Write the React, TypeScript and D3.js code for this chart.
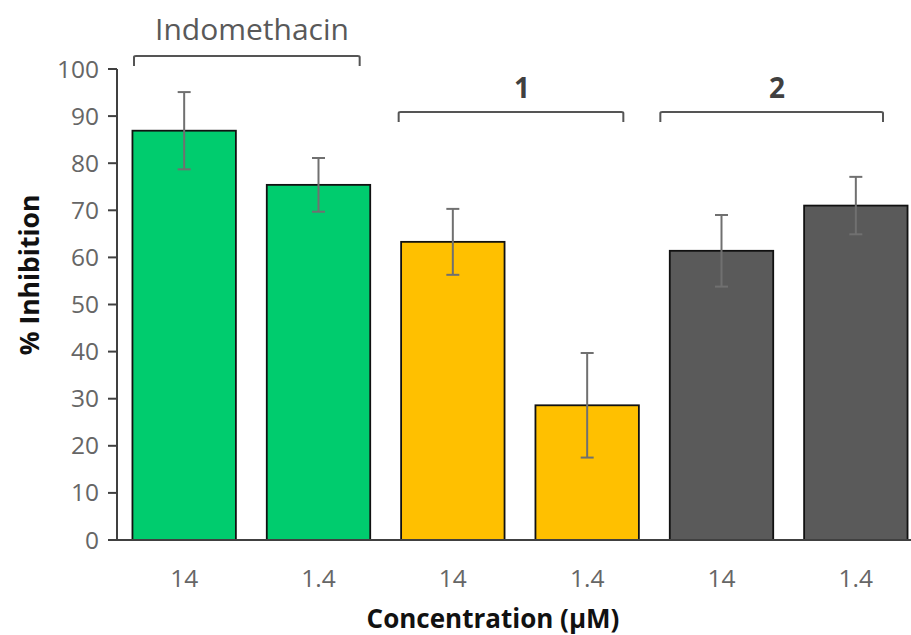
import React from "react";
import * as d3 from "d3";

const categories = ["Indo-14", "Indo-1.4", "C1-14", "C1-1.4", "C2-14", "C2-1.4"];
const tickLabels = ["14", "1.4", "14", "1.4", "14", "1.4"];
const values = [86.9, 75.4, 63.3, 28.6, 61.4, 71.0];
const errors = [8.2, 5.7, 7.0, 11.1, 7.6, 6.1];
const barColors = ["#00CC6E", "#00CC6E", "#FFC000", "#FFC000", "#5A5A5A", "#5A5A5A"];
const groupLabels = ["Indomethacin", "1", "2"];
const groupBold = [false, true, true];
const yTicks = [0, 10, 20, 30, 40, 50, 60, 70, 80, 90, 100];

const W = 911;
const H = 635;
const FONT = "'Open Sans', 'Noto Sans', sans-serif";

export default function App() {
  const x = d3.scaleBand<string>().domain(categories).range([117, 923]).paddingInner(0.23).paddingOuter(0.115);
  const xg = d3.scaleBand<string>().domain(groupLabels).range([117, 923]);
  const y = d3.scaleLinear().domain([0, 100]).range([540, 69]);

  // bracket layout (start offset, end offset within group band, y of bracket, label y)
  const bracketLayout = [
    { s: 17, e: -26, by: 56, ly: 40, lx: 252, size: 30 },
    { s: 13, e: -31, by: 112, ly: 98, lx: 522, size: 28 },
    { s: 6, e: -40, by: 112, ly: 98, lx: 777, size: 28 },
  ];

  return (
    <svg width={W} height={H} style={{ position: "absolute", left: 0, top: 0, background: "#fff" }} fontFamily={FONT}>
      {/* bars */}
      {categories.map((c, i) => (
        <rect
          key={c}
          x={x(c)}
          y={y(values[i])}
          width={x.bandwidth()}
          height={y(0) - y(values[i])}
          fill={barColors[i]}
          stroke="#111"
          strokeWidth={1.8}
        />
      ))}
      {/* error bars */}
      {categories.map((c, i) => {
        const cx = (x(c) as number) + x.bandwidth() / 2;
        const t = y(values[i] + errors[i]);
        const b = y(values[i] - errors[i]);
        return (
          <g key={"e" + c} stroke="#707070" strokeWidth={2}>
            <line x1={cx} x2={cx} y1={t} y2={b} />
            <line x1={cx - 6.5} x2={cx + 6.5} y1={t} y2={t} />
            <line x1={cx - 6.5} x2={cx + 6.5} y1={b} y2={b} />
          </g>
        );
      })}
      {/* y axis */}
      <line x1={117} x2={117} y1={y(100)} y2={y(0)} stroke="#404040" strokeWidth={2} />
      {yTicks.map((t) => (
        <g key={t}>
          <line x1={108} x2={117} y1={y(t)} y2={y(t)} stroke="#404040" strokeWidth={2} />
          <text x={99} y={y(t)} dy="0.35em" textAnchor="end" fontSize={24.5} fill="#666">
            {t}
          </text>
        </g>
      ))}
      {/* x axis */}
      <line x1={108} x2={W} y1={y(0)} y2={y(0)} stroke="#404040" strokeWidth={2} />
      {categories.map((c, i) => (
        <text
          key={"t" + c}
          x={(x(c) as number) + x.bandwidth() / 2}
          y={587}
          textAnchor="middle"
          fontSize={24.5}
          fill="#666"
        >
          {tickLabels[i]}
        </text>
      ))}
      {/* axis titles */}
      <text x={493} y={628} textAnchor="middle" fontSize={26} fontWeight="bold" fill="#111">
        Concentration (µM)
      </text>
      <text
        transform={`translate(39,275) rotate(-90)`}
        textAnchor="middle"
        fontSize={26.5}
        fontWeight="bold"
        fill="#111"
      >
        % Inhibition
      </text>
      {/* group brackets */}
      {groupLabels.map((g, i) => {
        const L = bracketLayout[i];
        const x0 = (xg(g) as number) + L.s;
        const x1 = (xg(g) as number) + xg.bandwidth() + L.e;
        return (
          <g key={"g" + g}>
            <path
              d={`M${x0},${L.by + 10} L${x0},${L.by + 1} Q${x0},${L.by} ${x0 + 2},${L.by} L${x1 - 2},${L.by} Q${x1},${L.by} ${x1},${L.by + 1} L${x1},${L.by + 10}`}
              fill="none"
              stroke="#555"
              strokeWidth={2}
            />
            <text
              x={L.lx}
              y={L.ly}
              textAnchor="middle"
              fontSize={L.size}
              fontWeight={groupBold[i] ? "bold" : "normal"}
              fill={groupBold[i] ? "#404040" : "#595959"}
            >
              {g}
            </text>
          </g>
        );
      })}
    </svg>
  );
}
